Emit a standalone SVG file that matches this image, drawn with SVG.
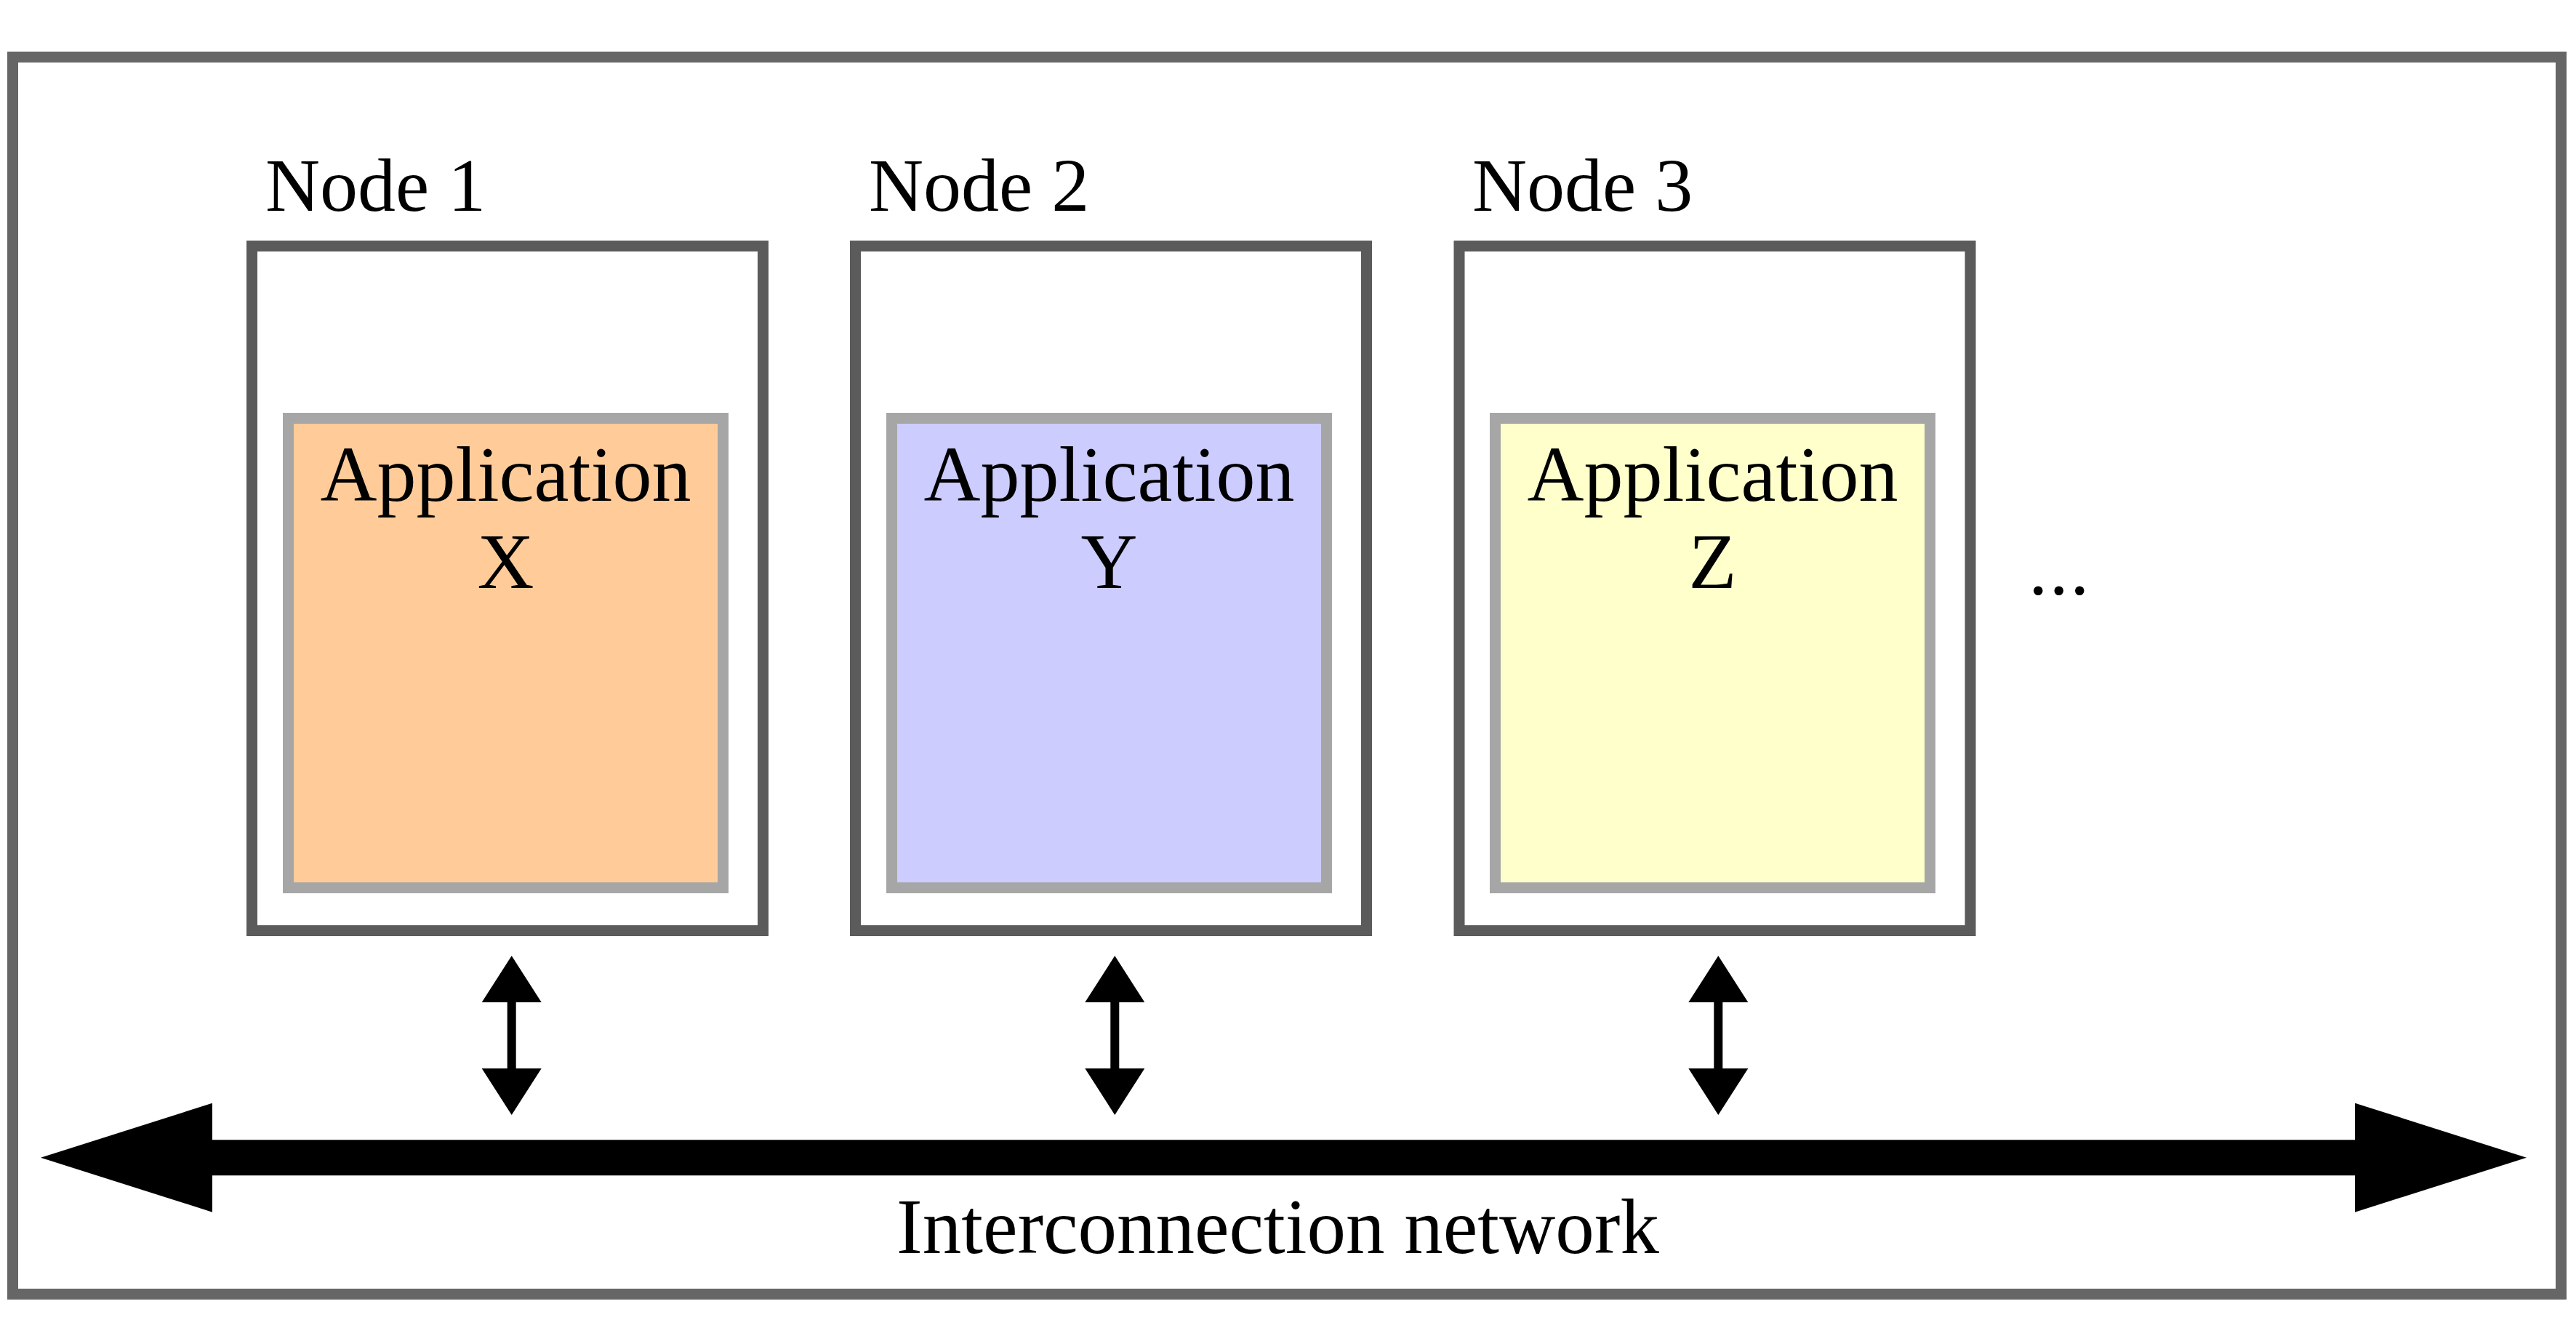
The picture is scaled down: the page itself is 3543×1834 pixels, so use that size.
<svg xmlns="http://www.w3.org/2000/svg" width="3543" height="1834" viewBox="0 0 3543 1834">
<style>
.frame{fill:none;stroke:#666666;stroke-width:15}
.node{fill:#ffffff;stroke:#5b5b5b;stroke-width:15}
.app{stroke:#a6a6a6;stroke-width:15}
.t{font-family:"Liberation Serif","Times New Roman",serif;fill:#000}
.lbl{font-size:104px}
.apt{font-size:108px;text-anchor:middle}
.big{stroke:#000;stroke-width:49;fill:none}
.small{stroke:#000;stroke-width:12;fill:none}
</style>
<defs>
<marker id="bigHead" markerUnits="userSpaceOnUse" viewBox="0 0 236 150" markerWidth="236" markerHeight="150" refX="0" refY="75" orient="auto-start-reverse"><path d="M0,0 L236,75 L0,150 Z" fill="#000"/></marker>
<marker id="smallHead" markerUnits="userSpaceOnUse" viewBox="0 0 64 82" markerWidth="64" markerHeight="82" refX="0" refY="41" orient="auto-start-reverse"><path d="M0,0 L64,41 L0,82 Z" fill="#000"/></marker>
</defs>
<rect width="3543" height="1834" fill="#ffffff"/>
<rect id="cluster" class="frame" x="17.5" y="78.5" width="3505" height="1702"/>
<g id="node1">
<text class="t lbl" x="365" y="290">Node 1</text>
<rect class="node" x="346.5" y="338.5" width="703" height="942"/>
<g id="appX">
<rect class="app" fill="#ffcc99" x="396.5" y="575.5" width="598" height="646"/>
<text class="t apt" x="695.5" y="689">Application</text>
<text class="t apt" x="695.5" y="808.5">X</text>
</g>
</g>
<g id="node2">
<text class="t lbl" x="1195" y="290">Node 2</text>
<rect class="node" x="1176.5" y="338.5" width="703" height="942"/>
<g id="appY">
<rect class="app" fill="#ccccff" x="1226.5" y="575.5" width="598" height="646"/>
<text class="t apt" x="1525.5" y="689">Application</text>
<text class="t apt" x="1525.5" y="808.5">Y</text>
</g>
</g>
<g id="node3">
<text class="t lbl" x="2025" y="290">Node 3</text>
<rect class="node" x="2007" y="338.5" width="703" height="942"/>
<g id="appZ">
<rect class="app" fill="#ffffcc" x="2056.5" y="575.5" width="598" height="646"/>
<text class="t apt" x="2355.5" y="689">Application</text>
<text class="t apt" x="2355.5" y="808.5">Z</text>
</g>
</g>
<g id="more">
<text class="t" x="2790" y="818" font-size="106" letter-spacing="2">...</text>
</g>
<g id="network">
<text class="t" x="1757.5" y="1724" font-size="107" text-anchor="middle">Interconnection network</text>
</g>
<g id="connectors">
<line class="big" x1="292" y1="1592.7" x2="3239" y2="1592.7" marker-start="url(#bigHead)" marker-end="url(#bigHead)"/>
<line class="small" x1="703.7" y1="1379" x2="703.7" y2="1470" marker-start="url(#smallHead)" marker-end="url(#smallHead)"/>
<line class="small" x1="1533.3" y1="1379" x2="1533.3" y2="1470" marker-start="url(#smallHead)" marker-end="url(#smallHead)"/>
<line class="small" x1="2363.3" y1="1379" x2="2363.3" y2="1470" marker-start="url(#smallHead)" marker-end="url(#smallHead)"/>
</g>
</svg>
